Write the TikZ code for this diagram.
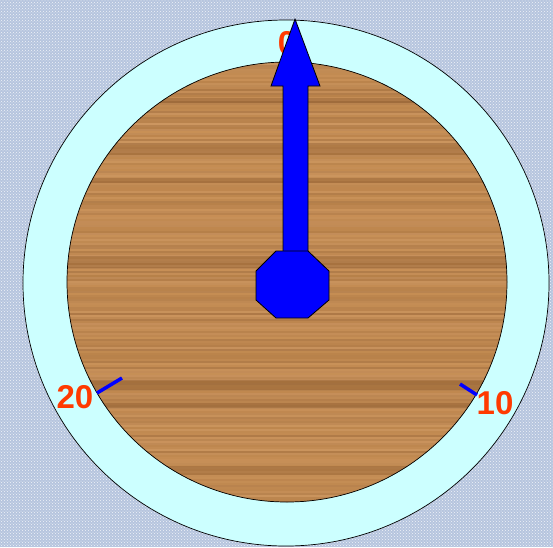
\documentclass[tikz,border=0pt]{standalone}
\usepackage{fontspec}
\setmainfont{Liberation Sans}
\usetikzlibrary{patterns}
\definecolor{bgblue}{HTML}{B6C5DE}
\definecolor{ringcyan}{HTML}{CCFFFF}
\definecolor{woodbase}{HTML}{C38A4E}
\definecolor{wooddark}{HTML}{7E4E24}
\definecolor{woodlight}{HTML}{DBA570}
\definecolor{labelred}{HTML}{FF3A00}
\definecolor{handblue}{HTML}{0000FF}
\tikzset{
  lbl/.style={text=labelred,font=\fontsize{33}{33}\selectfont\bfseries,inner sep=0pt},
  tickmark/.style={draw=handblue,line width=3.5pt},
  handpart/.style={fill=handblue,draw=black,line width=0.8pt,line join=miter},
}
\begin{document}
\begin{tikzpicture}[x=1pt,y=-1pt]
\useasboundingbox (0,0) rectangle (553,547);
% background
\fill[bgblue] (0,0) rectangle (553,547);
\fill[pattern=crosshatch dots,pattern color=white!80!bgblue] (0,0) rectangle (553,547);
% outer ring
\coordinate (c) at (286,283);
\draw[fill=ringcyan,line width=0.7pt] (c) circle[radius=263];
% wood face
\begin{scope}
  \clip (287,282) circle[radius=220];
  \fill[woodbase] (60,55) rectangle (515,510);
  \pgfmathsetseed{7}
  \foreach \yy in {60,62,...,506}{
    \pgfmathsetmacro\mix{int(10+50*rnd)}
    \pgfmathsetmacro\op{0.25+0.5*rnd}
    \draw[wooddark!\mix!woodlight,line width=1.3pt,opacity=\op] (60,\yy) -- (515,\yy);
  }
  \foreach \yy/\w in {150/10,180/5,262/12,385/10,405/5,470/9,100/5}{
    \fill[wooddark,opacity=0.3] (60,\yy-\w/2) rectangle (515,\yy+\w/2);
  }
\end{scope}
\draw[line width=0.7pt] (287,282) circle[radius=220];
% labels
\node[lbl] (l0) at (287,43) {0};
\node[lbl] (l10) at (495,403) {10};
\node[lbl] (l20) at (75,397) {20};
% ticks
\coordinate (t20a) at (97,393);
\coordinate (t20b) at (122,378);
\coordinate (t10a) at (460,384);
\coordinate (t10b) at (477,395);
\draw[tickmark] (t20a) -- (t20b);
\draw[tickmark] (t10a) -- (t10b);
% hand
\draw[handpart] (295,19) -- (320,86) -- (308,86) -- (308,256) -- (283,256) -- (283,86) -- (271,86) -- cycle;
\draw[handpart] (276,251) -- (308,251) -- (329,271) -- (329,300) -- (308,318) -- (276,318) -- (256,300) -- (256,271) -- cycle;
\end{tikzpicture}
\end{document}
